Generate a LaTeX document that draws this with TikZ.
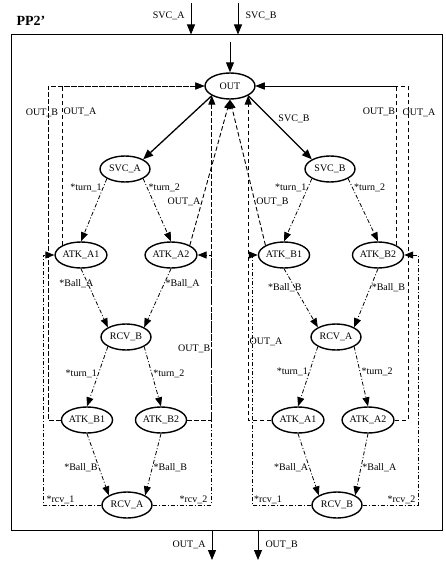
\documentclass[tikz,border=0pt]{standalone}
\usepackage{fontspec}
\setmainfont{Liberation Serif}
\usetikzlibrary{arrows.meta, calc, shapes.geometric}
\newcommand{\tk}[7]{% token arrow, dash dotted, with its label
  \draw [tok] (#1) -- node (#7) [anchor=#4, pos=#5, xshift=#6] {#3} (#2);
  }
\newcommand{\bx}[4]{% receiver loop back to the attackers
  \draw [tok] (#1) -- node (#4) [anchor=south, pos=0.7] {#3} (#2);
  }

\begin{document}
\begin{tikzpicture}[
  x=1pt, y=-1pt,
  every node/.style={font=\fontsize{10}{12}\selectfont, inner sep=1pt},
  state/.style={
    % The shape:
    ellipse,
    % The size:
    minimum width=50pt, minimum height=26pt, inner sep=0pt,
    % The border:
    draw, line width=1.4pt
  },
  tok/.style={
    line width=0.8pt,
    dash pattern=on 4pt off 2pt on 1pt off 2pt,
    -{Triangle[length=9pt, width=7pt]}
  },
  ret/.style={
    line width=0.9pt,
    dash pattern=on 4.5pt off 2.5pt,
    -{Triangle[length=9pt, width=7pt]}
  },
  svc/.style={line width=1.3pt, -{Triangle[length=10pt, width=8pt]}},
  io/.style={line width=1pt, -{Triangle[length=10pt, width=8pt]}},
  ]
  \useasboundingbox (0,0) rectangle (445,564);

  % frame and title
  \node (pp) [draw, line width=1pt, minimum width=431pt, minimum height=495pt] at (226.5,282.5) {};
  \node (title) [font=\fontsize{14}{16}\selectfont\bfseries] at (31,21) {PP2'};

  % Loop to create the states
  \foreach \n/\t/\x/\y in {
      OUT/OUT/230/86,
      lSVCA/SVC\_A/125/169, rSVCB/SVC\_B/330/169,
      lATKA1/ATK\_A1/81/255, lATKA2/ATK\_A2/171/255,
      rATKB1/ATK\_B1/284/255, rATKB2/ATK\_B2/378/255,
      lRCVB/RCV\_B/126/337, rRCVA/RCV\_A/336/337,
      lATKB1/ATK\_B1/87/420, lATKB2/ATK\_B2/161/420,
      rATKA1/ATK\_A1/298/420, rATKA2/ATK\_A2/368/420,
      lRCVA/RCV\_A/127/505, rRCVB/RCV\_B/337/505}
  {
    \node (\n) [state] at (\x,\y) {\t};
  }

  % inputs and outputs
  \coordinate (inA) at (191,3);
  \coordinate (inB) at (238,3);
  \coordinate (inO) at (230,42);
  \coordinate (outA) at (212,560);
  \coordinate (outB) at (258,560);
  \draw [io] (inA) -- node (linA) [left=5pt, pos=0.4] {SVC\_A} (inA |- pp.north);
  \draw [io] (inB) -- node (linB) [right=6pt, pos=0.4] {SVC\_B} (inB |- pp.north);
  \draw [io] (inO) -- (OUT);
  \draw [io] (outA |- pp.south) -- node (loutA) [left=5pt, pos=0.5] {OUT\_A} (outA);
  \draw [io] (outB |- pp.south) -- node (loutB) [right=6pt, pos=0.5] {OUT\_B} (outB);

  % service
  \draw [svc] (OUT.south west) -- (lSVCA.north east);
  \draw [svc] (OUT.south east) -- node (lsB) [pos=0.45, anchor=south west] {SVC\_B} (rSVCB.north west);

  % loop for the token arrows
  \foreach \a/\b/\t/\s/\p/\d [count=\i] in {
      lSVCA.south west/lATKA1.north/*turn\_1/east/0.15/0,
      lSVCA.south east/lATKA2.north/*turn\_2/west/0.15/0,
      lATKA1.south/lRCVB.north west/*Ball\_A/east/0.25/7,
      lATKA2.south/lRCVB.north east/*Ball\_A/west/0.25/0,
      lRCVB.south west/lATKB1.north/*turn\_1/east/0.46/0,
      lRCVB.south east/lATKB2.north/*turn\_2/west/0.46/0,
      lATKB1.south/lRCVA.north west/*Ball\_B/east/0.55/0,
      lATKB2.south/lRCVA.north east/*Ball\_B/west/0.55/0,
      rSVCB.south west/rATKB1.north/*turn\_1/east/0.15/0,
      rSVCB.south east/rATKB2.north/*turn\_2/west/0.15/0,
      rATKB1.south/rRCVA.north west/*Ball\_B/east/0.32/8,
      rATKB2.south/rRCVA.north east/*Ball\_B/west/0.32/0,
      rRCVA.south west/rATKA1.north/*turn\_1/east/0.43/0,
      rRCVA.south east/rATKA2.north/*turn\_2/west/0.43/0,
      rATKA1.south/rRCVB.north west/*Ball\_A/east/0.55/0,
      rATKA2.south/rRCVB.north east/*Ball\_A/west/0.55/0}
  {
    \tk{\a}{\b}{\t}{\s}{\p}{\d}{tk\i}
  }

  % receivers back to the attackers
  \coordinate (lbL) at (43,505);
  \coordinate (lbR) at (211,505);
  \coordinate (rbL) at (252,505);
  \coordinate (rbR) at (418,505);
  \draw [tok] (lRCVA.west) -- node (rc1) [anchor=south, pos=0.7] {*rcv\_1} (lbL) |- (lATKA1.west);
  \draw [tok] (lRCVA.east) -- node (rc2) [anchor=south, pos=0.7] {*rcv\_2} (lbR) |- (lATKA2.east);
  \draw [tok] (rRCVB.west) -- node (rc3) [anchor=south, pos=0.73] {*rcv\_1} (rbL) |- (rATKB1.west);
  \draw [tok] (rRCVB.east) -- node (rc4) [anchor=south, pos=0.7] {*rcv\_2} (rbR) |- (rATKB2.east);

  % outputs back to OUT
  \coordinate (lcB) at (48,420);
  \coordinate (rcA) at (408,420);
  \draw [ret] (lATKA1.north west) |- node (o1) [pos=0.42, anchor=west] {OUT\_A} (OUT.west);
  \draw [ret] (lATKB1.west) -- (lcB) |- node (o2) [pos=0.46, xshift=-6] {OUT\_B} (OUT.west);
  \draw [ret] (lATKB2.east) -| node (o3) [pos=0.61, anchor=east] {OUT\_B} (OUT.south west);
  \draw [ret] (lATKA2.north east) -- node (o4) [pos=0.3, anchor=east] {OUT\_A} (OUT.south);
  \draw [ret] (rATKB1.north west) -- node (o5) [pos=0.3, anchor=west] {OUT\_B} (OUT.south);
  \draw [ret] (rATKA1.west) -| node (o6) [pos=0.62, anchor=west] {OUT\_A} (OUT.south east);
  \draw [ret] (rATKB2.north east) |- node (o7) [pos=0.42, anchor=east] {OUT\_B} (OUT.east);
  \draw [ret] (rATKA2.east) -- (rcA) |- node (o8) [pos=0.46, xshift=11] {OUT\_A} (OUT.east);

\end{tikzpicture}
\end{document}
